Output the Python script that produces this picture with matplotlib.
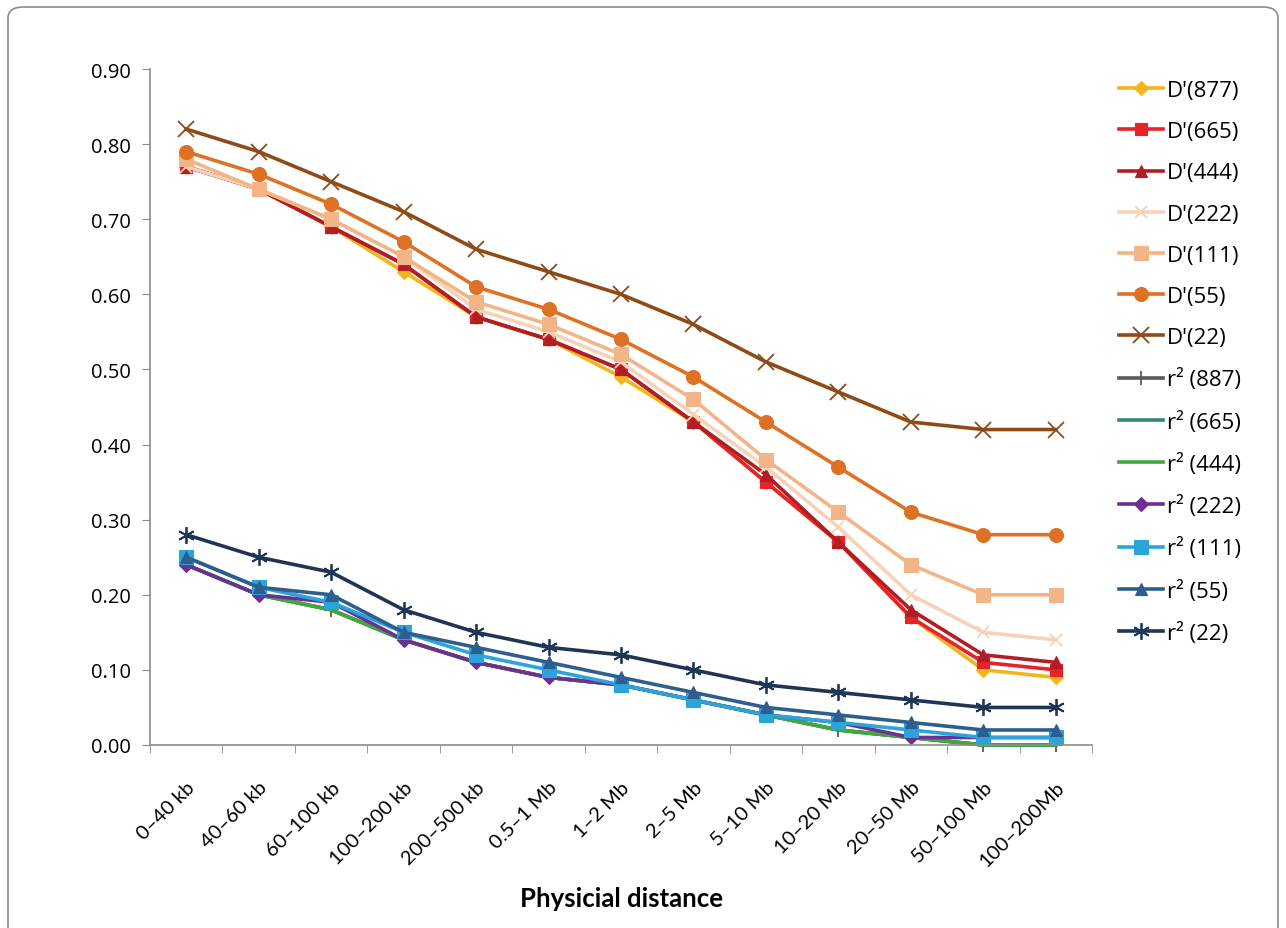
import numpy as np
import matplotlib
matplotlib.use('Agg')
import matplotlib.pyplot as plt
from matplotlib.patches import FancyBboxPatch

categories = ['0–40 kb', '40–60 kb', '60–100 kb', '100–200 kb', '200–500 kb', '0.5–1 Mb',
              '1–2 Mb', '2–5 Mb', '5–10 Mb', '10–20 Mb', '20–50 Mb', '50–100 Mb', '100–200Mb']

d877 = [0.77, 0.74, 0.69, 0.63, 0.57, 0.54, 0.49, 0.43, 0.35, 0.27, 0.17, 0.10, 0.09]
d665 = [0.77, 0.74, 0.69, 0.64, 0.57, 0.54, 0.50, 0.43, 0.35, 0.27, 0.17, 0.11, 0.10]
d444 = [0.77, 0.74, 0.69, 0.64, 0.57, 0.54, 0.50, 0.43, 0.36, 0.27, 0.18, 0.12, 0.11]
d222 = [0.77, 0.74, 0.70, 0.65, 0.58, 0.55, 0.51, 0.44, 0.37, 0.29, 0.20, 0.15, 0.14]
d111 = [0.78, 0.74, 0.70, 0.65, 0.59, 0.56, 0.52, 0.46, 0.38, 0.31, 0.24, 0.20, 0.20]
d55 = [0.79, 0.76, 0.72, 0.67, 0.61, 0.58, 0.54, 0.49, 0.43, 0.37, 0.31, 0.28, 0.28]
d22 = [0.82, 0.79, 0.75, 0.71, 0.66, 0.63, 0.60, 0.56, 0.51, 0.47, 0.43, 0.42, 0.42]

r887 = [0.24, 0.20, 0.18, 0.14, 0.11, 0.09, 0.08, 0.06, 0.04, 0.02, 0.01, 0.00, 0.00]
r665 = [0.24, 0.20, 0.18, 0.14, 0.11, 0.09, 0.08, 0.06, 0.04, 0.02, 0.01, 0.00, 0.00]
r444 = [0.24, 0.20, 0.18, 0.14, 0.11, 0.09, 0.08, 0.06, 0.04, 0.02, 0.01, 0.00, 0.00]
r222 = [0.24, 0.20, 0.19, 0.14, 0.11, 0.09, 0.08, 0.06, 0.04, 0.03, 0.01, 0.01, 0.01]
r111 = [0.25, 0.21, 0.19, 0.15, 0.12, 0.10, 0.08, 0.06, 0.04, 0.03, 0.02, 0.01, 0.01]
r55 = [0.25, 0.21, 0.20, 0.15, 0.13, 0.11, 0.09, 0.07, 0.05, 0.04, 0.03, 0.02, 0.02]
r22 = [0.28, 0.25, 0.23, 0.18, 0.15, 0.13, 0.12, 0.10, 0.08, 0.07, 0.06, 0.05, 0.05]

series = [
    ("D'(877)", d877, '#F2B51A', 'D', 7),
    ("D'(665)", d665, '#E5232B', 's', 9),
    ("D'(444)", d444, '#B01E23', '^', 9),
    ("D'(222)", d222, '#F8D2B8', 'x', 9),
    ("D'(111)", d111, '#F3B487', 's', 10),
    ("D'(55)", d55, '#DE7124', 'o', 10),
    ("D'(22)", d22, '#8E4A17', 'x', 11),
    ("r² (887)", r887, '#5A5A5A', '+', 10),
    ("r² (665)", r665, '#2F8A78', None, 0),
    ("r² (444)", r444, '#3DAA3A', None, 0),
    ("r² (222)", r222, '#6E2E93', 'D', 7),
    ("r² (111)", r111, '#2BA3DB', 's', 10),
    ("r² (55)", r55, '#2E5E8E', '^', 9),
    ("r² (22)", r22, '#1E3556', (6, 2, 0), 12),
]

plt.rcParams['font.family'] = ['Open Sans', 'DejaVu Sans']

fig = plt.figure(figsize=(12.86, 9.29), dpi=100)
# rounded frame, bottom edge runs off the image
fig.patches.append(FancyBboxPatch((8 / 1286, -0.2), 1270 / 1286, 1.2 - 8 / 929,
                                  boxstyle='round,pad=0,rounding_size=0.012',
                                  transform=fig.transFigure, fill=False,
                                  edgecolor='#8C8C8C', linewidth=1.2, zorder=0))
ax = fig.add_axes([150 / 1286, 1 - 746 / 929, 942 / 1286, 676 / 929])

x = np.arange(len(categories))
for name, vals, col, mk, ms in series:
    ax.plot(x, vals, color=col, marker=mk, markersize=ms, linewidth=2.6,
            markeredgewidth=1.3 if mk in ('x', '+', (6, 2, 0)) else 0.8,
            markeredgecolor=col, label=name, clip_on=False)

ax.set_xlim(-0.5, len(categories) - 0.5)
ax.set_ylim(0, 0.9)
ax.set_yticks(np.arange(0, 0.91, 0.1))
ax.set_yticklabels(['%.2f' % v for v in np.arange(0, 0.91, 0.1)], fontsize=14.5)
ax.set_xticks(x)
ax.set_xticklabels(categories, rotation=45, ha='right', rotation_mode='anchor',
                   fontsize=14.5, family=['Lato', 'DejaVu Sans'])
ax.set_xticks(np.arange(-0.5, len(categories)), minor=True)
ax.tick_params(axis='x', which='major', length=0, pad=24)
ax.tick_params(axis='x', which='minor', length=6, color='#8C8C8C', direction='out')
ax.tick_params(axis='y', length=6, color='#8C8C8C', direction='out', pad=8)
for s in ['top', 'right']:
    ax.spines[s].set_visible(False)
for s in ['left', 'bottom']:
    ax.spines[s].set_color('#8C8C8C')
    ax.spines[s].set_linewidth(1.2)

ax.set_xlabel('Physicial distance', fontsize=18.5, fontweight='bold',
              family=['Lato', 'DejaVu Sans'], labelpad=12)

ax.legend(loc='upper left', bbox_to_anchor=(1110 / 1286, 1 - 72 / 929),
          bbox_transform=fig.transFigure, frameon=False, fontsize=16,
          handlelength=2.0, handletextpad=0.15, labelspacing=0.91, borderaxespad=0)

fig.savefig('out.png', dpi=100)
